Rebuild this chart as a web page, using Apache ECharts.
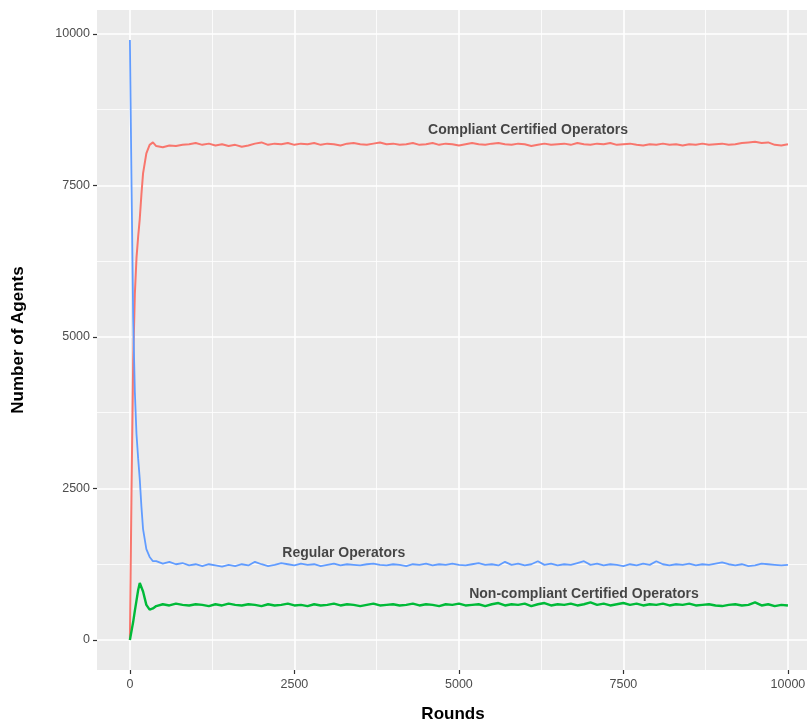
<!DOCTYPE html>
<html>
<head>
<meta charset="utf-8">
<script src="https://cdn.jsdelivr.net/npm/echarts@6/dist/echarts.min.js"></script>
<style>
html,body{margin:0;padding:0;background:#fff;}
#chart{width:809px;height:728px;}
</style>
</head>
<body>
<div id="chart"></div>
<script>
const rounds = [0,25,50,75,100,125,150,175,200,250,300,350,
400,500,600,700,800,900,1000,1100,1200,1300,1400,1500,1600,1700,1800,1900,
2000,2100,2200,2300,2400,2500,2600,2700,2800,2900,3000,3100,3200,3300,3400,3500,3600,3700,3800,3900,
4000,4100,4200,4300,4400,4500,4600,4700,4800,4900,5000,5100,5200,5300,5400,5500,5600,5700,5800,5900,
6000,6100,6200,6300,6400,6500,6600,6700,6800,6900,7000,7100,7200,7300,7400,7500,7600,7700,7800,7900,
8000,8100,8200,8300,8400,8500,8600,8700,8800,8900,9000,9100,9200,9300,9400,9500,9600,9700,9800,9900,10000];

const compliantCertified = [0,2500,4600,5700,6300,6650,6950,7350,7700,8030,8170,8210,
8150,8130,8160,8150,8170,8180,8200,8170,8190,8160,8180,8150,8170,8140,8160,8190,
8210,8170,8190,8180,8200,8170,8190,8180,8200,8170,8190,8180,8160,8190,8200,8180,8170,8190,8210,8180,
8190,8170,8180,8200,8170,8180,8200,8170,8190,8180,8160,8180,8200,8180,8170,8190,8200,8180,8170,8190,
8180,8150,8170,8190,8170,8180,8190,8170,8200,8180,8170,8190,8180,8200,8170,8180,8190,8170,8160,8180,
8170,8190,8170,8180,8160,8180,8170,8190,8170,8180,8190,8170,8180,8200,8210,8220,8200,8210,8170,8160,8180];

const regular = [9900,7500,5300,4100,3400,3000,2650,2200,1830,1500,1370,1300,
1300,1260,1290,1250,1270,1230,1250,1220,1250,1230,1210,1240,1220,1250,1230,1290,
1250,1220,1240,1270,1250,1230,1260,1240,1250,1220,1240,1260,1230,1250,1240,1230,1250,1260,1240,1230,
1250,1240,1220,1250,1240,1260,1230,1250,1240,1260,1240,1230,1250,1270,1240,1250,1230,1290,1240,1260,
1230,1250,1300,1240,1260,1230,1250,1240,1270,1300,1240,1260,1230,1250,1240,1220,1250,1230,1260,1240,
1300,1250,1230,1250,1240,1260,1230,1250,1240,1260,1280,1250,1230,1250,1220,1230,1260,1250,1240,1230,1240];

const nonCompliantCertified = [0,150,300,480,650,820,940,930,800,580,500,520,
560,590,570,600,580,570,590,580,560,590,570,600,580,570,590,580,
560,590,570,580,600,570,580,560,590,570,580,600,570,590,580,560,580,600,570,580,
590,570,580,600,570,590,580,560,590,580,600,570,580,590,560,590,610,570,590,580,
600,560,590,610,570,590,580,600,570,590,620,580,600,570,590,610,580,600,570,590,
580,600,570,590,580,600,570,580,590,570,560,580,590,570,580,620,570,590,560,580,570];

const xTicks = [0,2500,5000,7500,10000];
const xMinor = [1250,3750,6250,8750];
const yTicks = [0,2500,5000,7500,10000];
const yMinor = [1250,3750,6250,8750];

const annotations = [
  [6050, 8410, 'Compliant Certified Operators'],
  [3250, 1430, 'Regular Operators'],
  [6900, 760, 'Non-compliant Certified Operators']
];

const pair = arr => rounds.map((r, i) => [r, arr[i]]);
const font = 'Liberation Sans, Arial, sans-serif';

const chart = echarts.init(document.getElementById('chart'), null, {renderer: 'canvas'});

const gridLines = [];
xMinor.forEach(v => gridLines.push({xAxis: v, lineStyle: {width: 0.8}}));
yMinor.forEach(v => gridLines.push({yAxis: v, lineStyle: {width: 0.8}}));
xTicks.forEach(v => gridLines.push({xAxis: v, lineStyle: {width: 1.6}}));
yTicks.forEach(v => gridLines.push({yAxis: v, lineStyle: {width: 1.6}}));

chart.setOption({
  animation: false,
  backgroundColor: '#ffffff',
  grid: {left: 97, right: 2, top: 10, bottom: 58, show: true, backgroundColor: '#EBEBEB', borderWidth: 0},
  xAxis: {
    type: 'value', min: -500, max: 10290,
    axisLine: {show: false, onZero: false},
    splitLine: {show: false},
    axisTick: {show: true, customValues: xTicks, length: 4, lineStyle: {color: '#333333', width: 1.2}},
    axisLabel: {customValues: xTicks, formatter: v => String(v), color: '#4D4D4D', fontSize: 12.5, fontFamily: font, margin: 8}
  },
  yAxis: {
    type: 'value', min: -495, max: 10395,
    axisLine: {show: false, onZero: false},
    splitLine: {show: false},
    axisTick: {show: true, customValues: yTicks, length: 4, lineStyle: {color: '#333333', width: 1.2}},
    axisLabel: {customValues: yTicks, formatter: v => String(v), color: '#4D4D4D', fontSize: 12.5, fontFamily: font, margin: 7}
  },
  graphic: [
    {type: 'text', x: 453, y: 714, style: {text: 'Rounds', font: 'bold 17px ' + font, fill: '#000', align: 'center', verticalAlign: 'middle'}},
    {type: 'text', x: 18, y: 340, rotation: Math.PI / 2, style: {text: 'Number of Agents', font: 'bold 17px ' + font, fill: '#000', align: 'center', verticalAlign: 'middle'}}
  ],
  series: [
    {
      type: 'line', data: [], zlevel: 0, z: 1, silent: true,
      markLine: {silent: true, symbol: ['none', 'none'], label: {show: false}, lineStyle: {color: '#ffffff', type: 'solid'}, data: gridLines}
    },
    {type: 'line', name: 'Compliant Certified Operators', data: pair(compliantCertified), showSymbol: false, zlevel: 1, z: 3, lineStyle: {color: '#F8766D', width: 2}, itemStyle: {color: '#F8766D'}},
    {type: 'line', name: 'Regular Operators', data: pair(regular), showSymbol: false, zlevel: 1, z: 3, lineStyle: {color: '#619CFF', width: 1.8}, itemStyle: {color: '#619CFF'}},
    {type: 'line', name: 'Non-compliant Certified Operators', data: pair(nonCompliantCertified), showSymbol: false, zlevel: 1, z: 3, lineStyle: {color: '#00BA38', width: 2.4}, itemStyle: {color: '#00BA38'}},
    {
      type: 'scatter', data: annotations, symbolSize: 0, zlevel: 1, z: 4, silent: true,
      encode: {x: 0, y: 1},
      label: {show: true, position: 'inside', formatter: p => p.data[2], color: '#1a1a1a', fontSize: 14, fontWeight: 'bold', fontFamily: font}
    }
  ]
});
</script>
</body>
</html>
